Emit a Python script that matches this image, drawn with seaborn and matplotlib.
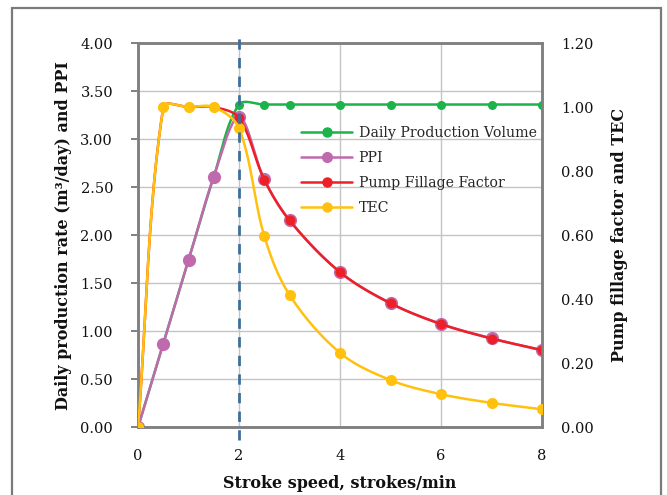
import numpy as np
import pandas as pd
import matplotlib
matplotlib.use("Agg")
import matplotlib.pyplot as plt
from matplotlib.lines import Line2D
from matplotlib.patches import Rectangle
import seaborn as sns

# Stroke speed (strokes/min) for each series
speed_dpv = [0, 0.5, 1, 1.5, 2, 2.5, 3, 4, 5, 6, 7, 8]
speed = [0, 0.5, 1, 1.5, 2, 2.5, 3, 4, 5, 6, 7, 8]

# Left axis: daily production volume (m3/day) and PPI
daily_volume = [0, 0.87, 1.74, 2.61, 3.36, 3.36, 3.36, 3.36, 3.36, 3.36, 3.36, 3.36]
ppi = [0, 0.87, 1.74, 2.61, 3.23, 2.58, 2.155, 1.615, 1.29, 1.075, 0.925, 0.80]

# Right axis: pump fillage factor and TEC
fillage = [0, 1.0, 1.0, 1.0, 0.966, 0.773, 0.646, 0.484, 0.387, 0.322, 0.277, 0.241]
tec = [0, 1.0, 1.0, 1.0, 0.934, 0.597, 0.413, 0.232, 0.147, 0.103, 0.076, 0.056]

critical_speed = 2

left_ticks = [0, 0.5, 1.0, 1.5, 2.0, 2.5, 3.0, 3.5, 4.0]
right_ticks = [0, 0.2, 0.4, 0.6, 0.8, 1.0, 1.2]
x_ticks = [0, 2, 4, 6, 8]

GREEN = "#1bb34a"
PINK = "#c06aae"
RED = "#ee2027"
GOLD = "#ffc10e"
DASH = "#3e6e9a"
SPINE = "#808080"
GRID = "#c4c4c4"


def smooth_curve(xs, ys, sx, sy, tension=1 / 3, n=40):
    """Bezier smoothing through every point; control arms scaled by the
    on-screen chord lengths of the neighbouring segments."""
    pts = np.column_stack([np.asarray(xs, float), np.asarray(ys, float)])
    scale = np.array([sx, sy])
    m = len(pts)
    t = np.linspace(0, 1, n)[:, None]

    def dist(a, b):
        return float(np.hypot(*((a - b) * scale)))

    out = []
    for i in range(m - 1):
        p0 = pts[i - 1] if i > 0 else pts[i]
        p1 = pts[i]
        p2 = pts[i + 1]
        p3 = pts[i + 2] if i + 2 < m else pts[i + 1]
        d01, d12, d23 = dist(p0, p1), dist(p1, p2), dist(p2, p3)
        f1 = tension * d12 / (d01 + d12) if d01 + d12 > 0 else 0
        f2 = tension * d12 / (d12 + d23) if d12 + d23 > 0 else 0
        c1 = p1 + f1 * (p2 - p0)
        c2 = p2 - f2 * (p3 - p1)
        seg = ((1 - t) ** 3) * p1 + 3 * ((1 - t) ** 2) * t * c1 \
            + 3 * (1 - t) * t ** 2 * c2 + t ** 3 * p2
        out.append(seg if i == 0 else seg[1:])
    arr = np.vstack(out)
    return pd.DataFrame({"x": arr[:, 0], "y": arr[:, 1]})


sns.set_theme(style="white")
plt.rcParams["font.family"] = ["DejaVu Serif"]
plt.rcParams["axes.linewidth"] = 1.8

fig = plt.figure(figsize=(6.67, 4.95), dpi=100)
ax = fig.add_axes([0.207, 0.137, 0.6056, 0.776])
ax2 = ax.twinx()

lw = 1.8
PX_X = 50.5     # pixels per stroke/min
PX_L = 96.0     # pixels per left-axis unit
PX_R = 320.0    # pixels per right-axis unit

# primary axis series
for xs, ys, col, ms, z in [
    (speed_dpv, daily_volume, GREEN, 6.5, 2),
    (speed, ppi, PINK, 9.5, 3),
]:
    sns.lineplot(data=smooth_curve(xs, ys, PX_X, PX_L), x="x", y="y", ax=ax,
                 color=col, linewidth=lw, sort=False, estimator=None, zorder=z)
    ax.plot(xs, ys, linestyle="none", marker="o", markersize=ms,
            color=col, markeredgewidth=0, zorder=z + 0.5)

# secondary axis series
for xs, ys, col, ms, z in [
    (speed, fillage, RED, 7.2, 2),
    (speed, tec, GOLD, 8.0, 3),
]:
    sns.lineplot(data=smooth_curve(xs, ys, PX_X, PX_R), x="x", y="y", ax=ax2,
                 color=col, linewidth=lw, sort=False, estimator=None, zorder=z)
    ax2.plot(xs, ys, linestyle="none", marker="o", markersize=ms,
             color=col, markeredgewidth=0, zorder=z + 0.5)

# critical stroke speed marker
ax2.axvline(critical_speed, ymin=-0.034, ymax=1.02, color=DASH,
            linewidth=2.0, linestyle=(0, (3.7, 3.0)), clip_on=False, zorder=10)

ax.set_xlim(0, 8)
ax.set_ylim(0, 4)
ax2.set_ylim(0, 1.2)
ax.set_xticks(x_ticks)
ax.set_yticks(left_ticks)
ax2.set_yticks(right_ticks)
ax.set_xticklabels([str(v) for v in x_ticks])
ax.set_yticklabels([f"{v:.2f}" for v in left_ticks])
ax2.set_yticklabels([f"{v:.2f}" for v in right_ticks])

ax.grid(True, color=GRID, linewidth=1.0)
ax.set_axisbelow(True)
ax2.grid(False)

for a in (ax, ax2):
    for s in a.spines.values():
        s.set_color(SPINE)
        s.set_linewidth(1.8)

ax.tick_params(axis="y", which="major", direction="out", length=5,
               width=1.4, color=SPINE, labelsize=10.5, pad=13, labelcolor="#111111")
ax.tick_params(axis="x", which="major", length=0, labelsize=10.5, pad=16,
               labelcolor="#111111")
ax2.tick_params(axis="y", which="major", length=0, labelsize=10.5, pad=14,
                labelcolor="#111111")

ax.set_xlabel("Stroke speed, strokes/min", fontsize=11.5, fontweight="bold",
              labelpad=8, color="#111111")
ax.set_ylabel("Daily production rate (m³/day) and PPI", fontsize=11.5,
              fontweight="bold", labelpad=6, color="#111111")
ax2.set_ylabel("Pump fillage factor and TEC", fontsize=11.5, fontweight="bold",
               labelpad=12, color="#111111")

handles = [
    Line2D([], [], color=GREEN, linewidth=lw, marker="o", markersize=6.5),
    Line2D([], [], color=PINK, linewidth=lw, marker="o", markersize=7),
    Line2D([], [], color=RED, linewidth=lw, marker="o", markersize=6.5),
    Line2D([], [], color=GOLD, linewidth=lw, marker="o", markersize=6.5),
]
labels = ["Daily Production Volume", "PPI", "Pump Fillage Factor", "TEC"]
ax2.legend(handles, labels, loc="upper left", bbox_to_anchor=(0.39, 0.80),
           frameon=False, fontsize=10.2, handlelength=3.6, handletextpad=0.45,
           labelspacing=0.78, borderaxespad=0)

# outer frame of the figure
fig.patches.append(Rectangle((12 / 667, -0.05), (661 - 12) / 667, 1.05 - 8 / 495,
                             transform=fig.transFigure, fill=False,
                             edgecolor="#7a7a7a", linewidth=1.6))

fig.savefig("out.png", dpi=100)
